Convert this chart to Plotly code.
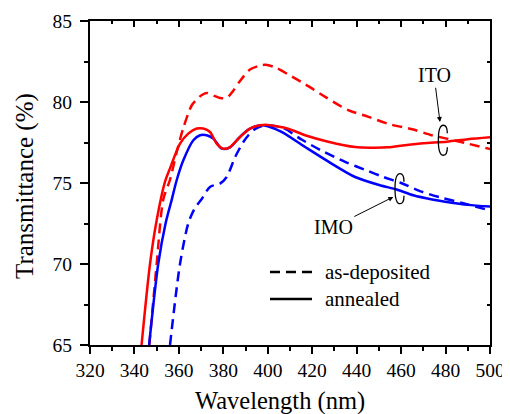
import plotly.graph_objects as go

# ---- data ----
ito_dep_wl = [346.7, 350, 353, 356, 359, 362, 365.8, 368, 370, 372.5, 375.5, 378.5, 381.5, 384.5,
              387.5, 392, 396.5, 399, 404, 409.2, 416.8, 426, 436.2, 445, 454.2, 465.5, 473.7,
              480.5, 490, 500]
ito_dep_T = [65, 70, 74, 75.2, 76.9, 78.4, 79.8, 80.15, 80.4, 80.56, 80.4, 80.25, 80.25, 80.7,
             81.3, 82.0, 82.25, 82.3, 82.1, 81.7, 81.1, 80.3, 79.5, 79.1, 78.65, 78.3, 77.95,
             77.74, 77.43, 77.1]

ito_ann_wl = [343.2, 347, 350, 353.8, 356, 360.5, 364.2, 368, 371, 374, 377, 380, 383, 387.5,
              392, 396.5, 399, 404, 409.2, 416.8, 427.2, 439.3, 446.7, 454, 461.8, 470, 480.5,
              490, 500]
ito_ann_T = [65, 70, 72.7, 75.1, 75.9, 77.43, 78.05, 78.36, 78.36, 78.15, 77.43, 77.12, 77.22,
             77.84, 78.36, 78.56, 78.6, 78.5, 78.35, 77.95, 77.55, 77.22, 77.18, 77.2, 77.33,
             77.45, 77.55, 77.7, 77.82]

imo_ann_wl = [346.6, 350.7, 354, 356.7, 359, 362, 366.5, 369.5, 372.5, 375.5, 379.3, 383, 387.5,
              392, 397.2, 400, 406.2, 416.8, 428.7, 439.3, 450.5, 458, 465.5, 474, 480.5, 490, 500]
imo_ann_T = [65, 70, 72.5, 73.93, 75.17, 76.4, 77.64, 77.95, 77.95, 77.74, 77.12, 77.2, 77.85,
             78.35, 78.56, 78.5, 78.15, 77.22, 76.2, 75.37, 74.86, 74.6, 74.24, 73.98, 73.83,
             73.65, 73.55]

imo_dep_wl = [356, 360.5, 364.2, 367, 370.2, 374, 378.5, 381.5, 385.3, 389, 391.3, 394, 397, 400,
              404, 407.7, 415, 424.2, 434.8, 445, 452, 460, 468.5, 478, 488, 500]
imo_dep_T = [65, 70, 72.5, 73.4, 74.0, 74.76, 74.96, 75.37, 76.6, 77.53, 77.95, 78.3, 78.5, 78.55,
             78.5, 78.35, 77.7, 77.0, 76.3, 75.75, 75.37, 75.0, 74.5, 74.1, 73.75, 73.3]

x_ticks = [320, 340, 360, 380, 400, 420, 440, 460, 480, 500]
y_ticks = [65, 70, 75, 80, 85]

FONT = "'Liberation Serif', 'Times New Roman', 'DejaVu Serif', serif"
RED = "#ff0000"
BLUE = "#0000ff"
DASH = "10px,6px"

# page body has an 8px margin: the figure is sized/placed to compensate
PX_L, PX_R, PX_T, PX_B = 90, 490, 21, 345   # plot area in page pixels
OFF = 8
W, H = 510 - OFF, 414 - OFF


def px_x(p):
    return (p - PX_L) / (PX_R - PX_L)


def px_y(p):
    return (PX_B - p) / (PX_B - PX_T)


fig = go.Figure()
series = [
    (ito_dep_wl, ito_dep_T, RED, DASH),
    (imo_dep_wl, imo_dep_T, BLUE, DASH),
    (imo_ann_wl, imo_ann_T, BLUE, "solid"),
    (ito_ann_wl, ito_ann_T, RED, "solid"),
]
for wl, T, col, dash in series:
    fig.add_trace(go.Scatter(x=wl, y=T, mode="lines", showlegend=False,
                             line=dict(color=col, width=2.5, dash=dash, shape="spline", smoothing=0.8)))

# dummy trace for mirrored (top/right) axes with inward ticks
fig.add_trace(go.Scatter(x=[None], y=[None], xaxis="x2", yaxis="y2", showlegend=False, hoverinfo="skip"))

axis_common = dict(showgrid=False, zeroline=False, linecolor="black", linewidth=2,
                   tickcolor="black", tickwidth=1.5, showline=True, automargin=False)

fig.update_layout(
    width=W, height=H,
    margin=dict(l=PX_L - OFF, r=W - (PX_R - OFF), t=PX_T - OFF, b=H - (PX_B - OFF), pad=0),
    paper_bgcolor="white", plot_bgcolor="white",
    font=dict(family=FONT, size=19.5, color="black"),
    xaxis=dict(range=[320, 500], tickvals=x_ticks, ticks="outside", ticklen=7,
               minor=dict(dtick=10, tick0=320, ticks="outside", ticklen=4, tickwidth=1.5, tickcolor="black"),
               tickfont=dict(size=19.5), **axis_common),
    yaxis=dict(range=[65, 85], tickvals=y_ticks, ticks="outside", ticklen=8, ticklabelstandoff=4,
               minor=dict(dtick=2.5, tick0=65, ticks="outside", ticklen=4, tickwidth=1.5, tickcolor="black"),
               tickfont=dict(size=19.5), **axis_common),
    xaxis2=dict(range=[320, 500], overlaying="x", side="top", anchor="y2", tickvals=x_ticks,
                ticks="inside", ticklen=6, showticklabels=False,
                minor=dict(dtick=10, tick0=320, ticks="inside", ticklen=3, tickwidth=1.5, tickcolor="black"),
                **axis_common),
    yaxis2=dict(range=[65, 85], overlaying="y", side="right", anchor="x2", tickvals=y_ticks,
                ticks="inside", ticklen=6, showticklabels=False,
                minor=dict(dtick=2.5, tick0=65, ticks="inside", ticklen=3, tickwidth=1.5, tickcolor="black"),
                **axis_common),
)

annotations = [
    # axis titles
    dict(text="Wavelength (nm)", xref="paper", yref="paper", x=px_x(280), y=px_y(401),
         showarrow=False, xanchor="center", yanchor="middle", font=dict(size=24.5)),
    dict(text="Transmittance (%)", xref="paper", yref="paper", x=px_x(25), y=px_y(186),
         showarrow=False, xanchor="center", yanchor="middle", textangle=-90, font=dict(size=25)),
    # labels with arrows
    dict(text="ITO", x=477.5, y=78.77, ax=474.8, ay=81.65, axref="x", ayref="y", xref="x", yref="y",
         showarrow=True, arrowhead=2, arrowsize=1, arrowwidth=1, arrowcolor="black", font=dict(size=20)),
    dict(text="IMO", x=456.5, y=74.14, ax=429.5, ay=72.28, axref="x", ayref="y", xref="x", yref="y",
         showarrow=True, arrowhead=2, arrowsize=1, arrowwidth=1, arrowcolor="black", font=dict(size=20)),
    # legend texts
    dict(text="as-deposited", xref="paper", yref="paper", x=px_x(323), y=px_y(272),
         showarrow=False, xanchor="left", yanchor="middle", font=dict(size=21)),
    dict(text="annealed", xref="paper", yref="paper", x=px_x(323), y=px_y(299),
         showarrow=False, xanchor="left", yanchor="middle", font=dict(size=21)),
]
fig.update_layout(annotations=annotations)

loop_path = "M 4,7 C 4,13 2,15 0,15 C -3,15 -5,10 -5,0 C -5,-10 -3,-15 0,-15 C 2,-15 4,-13 4,-7"
shapes = [
    dict(type="path", xref="x", yref="y", xsizemode="pixel", ysizemode="pixel",
         xanchor=479.0, yanchor=77.64, path=loop_path, line=dict(color="black", width=1.3)),
    dict(type="path", xref="x", yref="y", xsizemode="pixel", ysizemode="pixel",
         xanchor=459.5, yanchor=74.65, path=loop_path, line=dict(color="black", width=1.3)),
    # legend line samples
    dict(type="line", xref="paper", yref="paper", x0=px_x(270), x1=px_x(312),
         y0=px_y(272), y1=px_y(272), line=dict(color="black", width=2.5, dash=DASH)),
    dict(type="line", xref="paper", yref="paper", x0=px_x(270), x1=px_x(312),
         y0=px_y(299), y1=px_y(299), line=dict(color="black", width=2.5)),
]
fig.update_layout(shapes=shapes)

fig.write_html("out.html")
